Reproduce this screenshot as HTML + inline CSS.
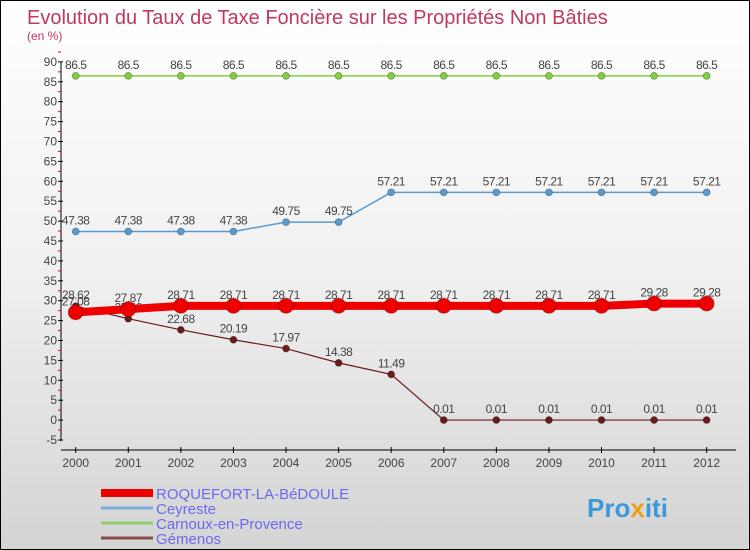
<!DOCTYPE html>
<html><head><meta charset="utf-8"><style>
body{margin:0}
#c{position:relative;width:748px;height:548px;border:1px solid #000;background:linear-gradient(#fff 0%,#f0f0f0 50%,#d4d4d4 100%);font-family:"Liberation Sans",sans-serif;overflow:hidden}
</style></head><body>
<div id="c">
<svg id="s" width="748" height="548" xmlns="http://www.w3.org/2000/svg">
<text x="26" y="23" font-size="20" fill="#c0395e">Evolution du Taux de Taxe Foncière sur les Propriétés Non Bâties</text>
<text x="26" y="39" font-size="12" fill="#c0395e">(en %)</text>
<g id="ax"></g><g id="marks"></g>
</svg>
<div style="position:absolute;left:586px;top:492px;font-size:26px;font-weight:bold;color:#3a9ad9">Pro<span style="color:#e8a020">x</span>iti</div>
</div>
<script>
const years=[2000,2001,2002,2003,2004,2005,2006,2007,2008,2009,2010,2011,2012];
const yTicks=[-5,0,5,10,15,20,25,30,35,40,45,50,55,60,65,70,75,80,85,90];
const roquefort=[27.08,27.87,28.71,28.71,28.71,28.71,28.71,28.71,28.71,28.71,28.71,29.28,29.28];
const ceyreste=[47.38,47.38,47.38,47.38,49.75,49.75,57.21,57.21,57.21,57.21,57.21,57.21,57.21];
const carnoux=[86.5,86.5,86.5,86.5,86.5,86.5,86.5,86.5,86.5,86.5,86.5,86.5,86.5];
const gemenos=[28.62,25.48,22.68,20.19,17.97,14.38,11.49,0.01,0.01,0.01,0.01,0.01,0.01];
const seriesNames=["ROQUEFORT-LA-BéDOULE","Ceyreste","Carnoux-en-Provence","Gémenos"];
const NS="http://www.w3.org/2000/svg";
const X=i=>74.7+i*52.58, Y=v=>419.1-v*3.98;
function mk(t,a,p){const e=document.createElementNS(NS,t);for(const k in a)e.setAttribute(k,a[k]);p.appendChild(e);return e;}
const ax=document.getElementById('ax'), mg=document.getElementById('marks');
let l=mk('line',{x1:60,y1:61,x2:60,y2:440,stroke:'#000'},ax);


l=mk('line',{x1:60,y1:449,x2:735,y2:449,stroke:'#000'},ax);


yTicks.forEach(v=>{
 mk('line',{x1:57,x2:62,y1:Y(v),y2:Y(v),stroke:'#000'},ax);
 mk('line',{x1:57,x2:60,y1:Y(v+2.5),y2:Y(v+2.5),stroke:'#e00'},ax);
 const t=mk('text',{x:56,y:Y(v)+4,'font-size':12,fill:'#444','text-anchor':'end'},ax);
 t.textContent=v;
 
 
});
years.forEach((y,i)=>{
 mk('line',{x1:X(i),x2:X(i),y1:446,y2:452,stroke:'#000'},ax);
 const t=mk('text',{x:X(i),y:466,'font-size':12,fill:'#444','text-anchor':'middle'},ax);
 t.textContent=y;
 
 
});
function series(d,col,w,r,name,lab){
 const p=mk('polyline',{points:d.map((v,i)=>X(i)+','+Y(v)).join(' '),fill:'none',stroke:col,'stroke-width':w},mg);
 
 
 d.forEach((v,i)=>{
  const c=mk('circle',{cx:X(i),cy:Y(v),r:r,fill:col,stroke:'rgba(0,0,0,0.3)','stroke-width':0.8},mg);
  
  
  if(lab){const t=mk('text',{x:X(i),y:Y(v)-7,'font-size':12,fill:'#444','text-anchor':'middle','letter-spacing':'-0.5'},mg);
  t.textContent=v;
  
  }
 });
}
series(carnoux,'#7fcf3f',1.5,3.5,'carnoux',true);
series(ceyreste,'#5a9ad0',1.5,3.5,'ceyreste',true);
series(gemenos,'#6a1a1a',1.2,3.5,'gemenos',true);
series(roquefort,'#ee0000',8,7.5,'roquefort',true);
const cols=['#ee0000','#7aaed8','#90d070','#8a4a4a'], ws=[8,3,3,3], ly=[492,507,522,537];
seriesNames.forEach((n,i)=>{
 const ln=mk('line',{x1:100,x2:152,y1:ly[i],y2:ly[i],stroke:cols[i],'stroke-width':ws[i]},ax);
 
 
 const t=mk('text',{x:155,y:ly[i]+6,'font-size':15,fill:'#6a6af0'},ax);
 t.textContent=n;
 
 
});
</script>
</body></html>
